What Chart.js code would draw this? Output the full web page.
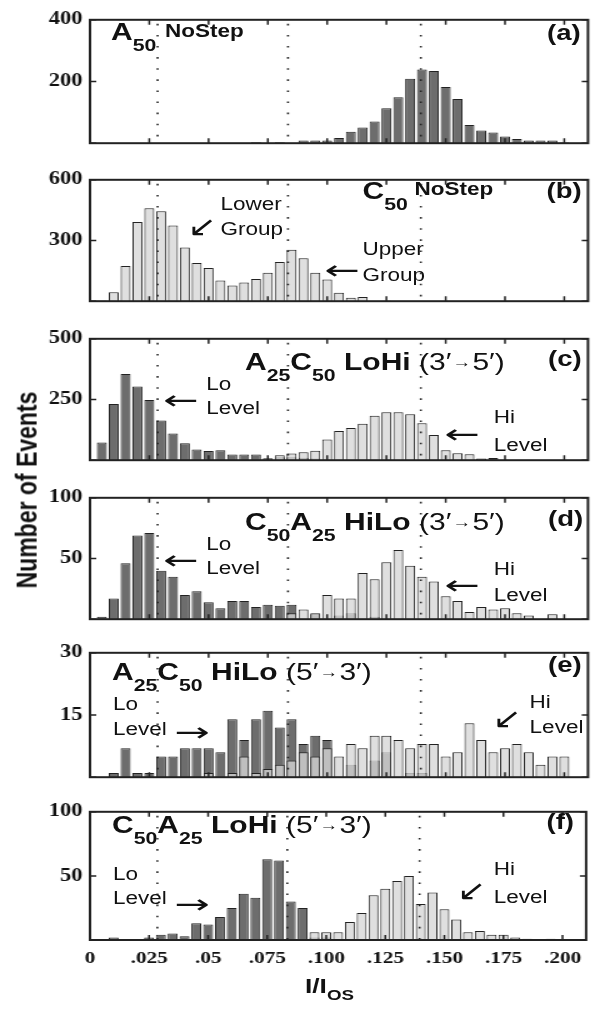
<!DOCTYPE html>
<html lang="en">
<head>
  <meta charset="UTF-8" />
  <title>Current histograms</title>
  <script src="https://cdn.jsdelivr.net/npm/chart.js"></script>
  <style>
    body { margin: 0; background: #fff; }
    #fig {
      position: relative;
      width: 473px;
      height: 1009px;
      transform: scaleX(1.25);   /* the original figure is stretched sideways */
      transform-origin: 0 0;
      font-family: "Liberation Sans", Arial, sans-serif;
      color: #111;
    }
    #fig canvas { position: absolute; left: 0; }
    .t { position: absolute; white-space: nowrap; line-height: 1; z-index: 2; }
    .big { font-size: 24px; font-weight: bold; }
    .big sub { font-size: 17px; vertical-align: -11px; }
    .rg { font-weight: normal; }
    .ar { font-size: 0.62em; vertical-align: 0.15em; margin: 0 1px; }
    .ns { font-size: 18px; font-weight: bold; }
    .tag { font-size: 22px; font-weight: bold; }
    .lab { font-size: 18px; }
    .arr { font-family: "DejaVu Sans", sans-serif; font-size: 26px; }
    .long { transform: scaleX(1.3); }
    .ytitle {
      left: 21.6px; top: 490px;
      font-size: 23px; font-weight: bold;
      transform: translate(-50%, -50%) rotate(-90deg);
    }
    .xt { font-size: 21px; font-weight: bold; }
    .xt sub { font-size: 15px; vertical-align: -7px; }
  </style>
</head>
<body>
<div id="fig">
  <!-- (a) -->
  <div class="t big" style="left:88.8px;top:19.7px">A<sub>50</sub></div>
  <div class="t ns" style="left:132px;top:21.8px">NoStep</div>
  <div class="t tag" style="left:437.6px;top:21.9px">(a)</div>

  <!-- (b) -->
  <div class="t big" style="left:290px;top:178.7px">C<sub>50</sub></div>
  <div class="t ns" style="left:331.7px;top:179.8px">NoStep</div>
  <div class="t tag" style="left:437.2px;top:180.4px">(b)</div>
  <div class="t lab" style="left:176.4px;top:194.8px">Lower</div>
  <div class="t arr" style="left:150px;top:212.7px;font-size:28px">↙</div>
  <div class="t lab" style="left:176.4px;top:219.8px">Group</div>
  <div class="t lab" style="left:290px;top:239.8px">Upper</div>
  <div class="t arr long" style="left:262.7px;top:257.3px">←</div>
  <div class="t lab" style="left:290px;top:265.8px">Group</div>

  <!-- (c) -->
  <div class="t big" style="left:196px;top:349.7px">A<sub>25</sub>C<sub>50</sub> LoHi <span class="rg">(3′<span class="ar">→</span>5′)</span></div>
  <div class="t tag" style="left:438.4px;top:348.4px">(c)</div>
  <div class="t lab" style="left:165px;top:374.8px">Lo</div>
  <div class="t arr long" style="left:133.9px;top:387.3px">←</div>
  <div class="t lab" style="left:165px;top:398.8px">Level</div>
  <div class="t lab" style="left:395px;top:407.8px">Hi</div>
  <div class="t arr long" style="left:358.7px;top:420.8px">←</div>
  <div class="t lab" style="left:395px;top:435.8px">Level</div>

  <!-- (d) -->
  <div class="t big" style="left:196px;top:509.7px">C<sub>50</sub>A<sub>25</sub> HiLo <span class="rg">(3′<span class="ar">→</span>5′)</span></div>
  <div class="t tag" style="left:438.4px;top:508.4px">(d)</div>
  <div class="t lab" style="left:165px;top:534.8px">Lo</div>
  <div class="t arr long" style="left:133.9px;top:547.3px">←</div>
  <div class="t lab" style="left:165px;top:558.8px">Level</div>
  <div class="t lab" style="left:395px;top:559.8px">Hi</div>
  <div class="t arr long" style="left:358.7px;top:572.3px">←</div>
  <div class="t lab" style="left:395px;top:585.8px">Level</div>

  <!-- (e) -->
  <div class="t big" style="left:89.6px;top:659.7px">A<sub>25</sub>C<sub>50</sub> HiLo <span class="rg">(5′<span class="ar">→</span>3′)</span></div>
  <div class="t tag" style="left:438.4px;top:654.4px">(e)</div>
  <div class="t lab" style="left:90.4px;top:694.8px">Lo</div>
  <div class="t lab" style="left:90.4px;top:719.8px">Level</div>
  <div class="t arr long" style="left:142.7px;top:719.3px">→</div>
  <div class="t lab" style="left:423.7px;top:692.8px">Hi</div>
  <div class="t arr" style="left:394px;top:704.7px;font-size:28px">↙</div>
  <div class="t lab" style="left:423.7px;top:717.8px">Level</div>

  <!-- (f) -->
  <div class="t big" style="left:89.6px;top:812.7px">C<sub>50</sub>A<sub>25</sub> LoHi <span class="rg">(5′<span class="ar">→</span>3′)</span></div>
  <div class="t tag" style="left:437.2px;top:811.4px">(f)</div>
  <div class="t lab" style="left:90.4px;top:864.8px">Lo</div>
  <div class="t lab" style="left:90.4px;top:888.8px">Level</div>
  <div class="t arr long" style="left:142.7px;top:890.8px">→</div>
  <div class="t lab" style="left:395px;top:859.8px">Hi</div>
  <div class="t arr" style="left:365.7px;top:877.2px;font-size:28px">↙</div>
  <div class="t lab" style="left:395px;top:887.8px">Level</div>

  <div class="t ytitle">Number of Events</div>
  <div class="t xt" style="left:244px;top:975px">I/I<sub>OS</sub></div>
</div>

<script>
  // bin centres (I/Ios), 0.005 wide
  const bins = [0, 0.005, 0.01, 0.015, 0.02, 0.025, 0.03, 0.035, 0.04, 0.045,
                0.05, 0.055, 0.06, 0.065, 0.07, 0.075, 0.08, 0.085, 0.09, 0.095,
                0.1, 0.105, 0.11, 0.115, 0.12, 0.125, 0.13, 0.135, 0.14, 0.145,
                0.15, 0.155, 0.16, 0.165, 0.17, 0.175, 0.18, 0.185, 0.19, 0.195,
                0.2, 0.205];

  const xTickValues = [0, 0.025, 0.05, 0.075, 0.1, 0.125, 0.15, 0.175, 0.2];
  const xTickLabels = ['0', '.025', '.05', '.075', '.100', '.125', '.150', '.175', '.200'];
  const guideLines = [0.0285, 0.0835, 0.1395];

  // (a) A50 NoStep
  const aDark = [null, null, null, null, null, null, null, null, null, null,
                 null, null, null, null, 3, null, 3, null, 9, 9,
                 9, 17, 37, 51, 70, 113, 149, 209, 239, 234,
                 182, 143, 59, 41, 35, 22, 14, 9, 9, 9,
                 2, null];
  const aTicks = [0, 200, 400];

  // (b) C50 NoStep
  const bLight = [null, 4, 44, 174, 392, 460, 445, 374, 265, 189,
                  164, 102, 77, 93, 110, 141, 194, 254, 212, 141,
                  107, 42, 17, 21, null, 2, null, null, null, null,
                  null, null, null, null, null, null, null, null, null, null,
                  null, null];
  const bTicks = [0, 300, 600];

  // (c) A25C50 LoHi (3'->5')
  const cDark = [null, 73, 231, 355, 304, 248, 163, 110, 70, 44,
                 38, 41, 23, 23, 23, 8, 12, 12, 10, 7,
                 null, null, null, null, null, null, null, null, null, null,
                 null, null, null, 7, 9, null, null, null, null, null,
                 null, null];
  const cLight = [null, null, null, null, null, null, null, null, null, null,
                  null, null, null, null, null, null, 20, 28, 33, 39,
                  85, 120, 133, 150, 183, 198, 198, 189, 152, 104,
                  41, 29, 25, null, null, null, null, null, null, null,
                  null, null];
  const cTicks = [0, 250, 500];

  // (d) C50A25 HiLo (3'->5')
  const dDark = [null, 2, 17, 46, 69, 71, 40, 35, 20, 23,
                 14, 9, 15, 15, 10, 12, 11, 12, null, 4,
                 null, 3, 5, null, 2, null, null, null, null, null,
                 null, null, null, null, null, null, null, null, null, null,
                 null, null];
  const dLight = [null, null, null, null, null, null, null, null, null, null,
                  null, null, null, null, null, null, null, 5, 8, 5,
                  20, 17, 17, 38, 33, 47, 57, 44, 35, 31,
                  19, 15, 6, 10, 8, 9, 5, 3, null, 4,
                  null, null];
  const dTicks = [0, 50, 100];

  // (e) A25C50 HiLo (5'->3')
  const eDark = [null, null, 1, 7, 1, 1, 5, 5, 7, 7,
                 7, 6, 14, 9, 14, 16, 12, 14, 8, 10,
                 9, null, 3, null, 4, 6, null, 1, 1, null,
                 null, null, null, null, null, null, null, null, null, null,
                 null, null];
  const eLight = [null, null, null, null, null, null, null, null, null, null,
                  1, null, 1, 5, 1, 2, 3, 4, 6, 5,
                  7, 5, 8, 7, 10, 10, 9, 7, 8, 8,
                  5, 6, 13, 9, 6, 7, 8, 6, 3, 5,
                  5, null];
  const eTicks = [0, 15, 30];

  // (f) C50A25 LoHi (5'->3')
  const fDark = [null, null, 2, null, null, 2, 4, 5, 3, 13,
                 12, 18, 25, 36, 33, 63, 62, 30, 25, 2,
                 2, null, null, null, null, null, null, null, null, null,
                 null, null, null, null, null, null, null, null, null, null,
                 null, null];
  const fLight = [null, null, null, null, null, null, null, null, null, null,
                  null, null, null, null, null, null, null, null, null, 6,
                  6, 6, 14, 21, 35, 40, 46, 50, 28, 37,
                  24, 16, 6, 7, 4, 4, 2, 1, null, 1,
                  null, null];
  const fTicks = [0, 50, 100];

  const DARK = '#6d6d6d';
  const LIGHT = 'rgba(214, 214, 214, 0.78)';
  const W = 473;
  const serif = '"Liberation Serif", "Times New Roman", serif';
  const yFont = { family: serif, size: 18, weight: 'bold' };
  const xFont = { family: serif, size: 17, weight: 'bold' };

  // panel layout (unstretched px): top / bottom of the plot box
  const panels = [
    { top: 14,  bottom: 149, ticks: aTicks, dark: aDark, light: null },
    { top: 174, bottom: 307, ticks: bTicks, dark: null,  light: bLight },
    { top: 333, bottom: 466, ticks: cTicks, dark: cDark, light: cLight },
    { top: 492, bottom: 625, ticks: dTicks, dark: dDark, light: dLight },
    { top: 647, bottom: 783, ticks: eTicks, dark: eDark, light: eLight },
    { top: 806, bottom: 940, ticks: fTicks, dark: fDark, light: fLight }
  ];

  function series(values) {
    return values.map((v, i) => ({ x: bins[i], y: v }));
  }

  function boxPlugin(yTicks) {
    return {
      id: 'box',
      afterDatasetsDraw(chart) {
        const { ctx, chartArea: a, scales: { x, y } } = chart;
        ctx.save();
        ctx.strokeStyle = '#222';
        // dotted guides
        ctx.lineWidth = 1.6;
        ctx.setLineDash([1.6, 9.5]);
        guideLines.forEach(v => {
          const px = x.getPixelForValue(v);
          ctx.beginPath();
          ctx.moveTo(px, a.top + 4);
          ctx.lineTo(px, a.bottom);
          ctx.stroke();
        });
        ctx.setLineDash([]);
        // inward tick marks on all four sides
        ctx.lineWidth = 1.5;
        ctx.beginPath();
        xTickValues.forEach(v => {
          const px = x.getPixelForValue(v);
          ctx.moveTo(px, a.bottom); ctx.lineTo(px, a.bottom - 5);
          ctx.moveTo(px, a.top); ctx.lineTo(px, a.top + 5);
        });
        yTicks.forEach(v => {
          const py = y.getPixelForValue(v);
          ctx.moveTo(a.left, py); ctx.lineTo(a.left + 5, py);
          ctx.moveTo(a.right, py); ctx.lineTo(a.right - 5, py);
        });
        ctx.stroke();
        ctx.lineWidth = 2;
        ctx.strokeRect(a.left, a.top, a.right - a.left, a.bottom - a.top);
        ctx.restore();
      }
    };
  }

  function makePanel(p, last) {
    const padTop = 11, padBottom = last ? 0 : 11, axisH = last ? 30 : 0;
    const canvas = document.createElement('canvas');
    canvas.width = W;
    canvas.height = p.bottom - p.top + padTop + padBottom + axisH;
    canvas.style.top = (p.top - padTop) + 'px';
    document.getElementById('fig').appendChild(canvas);

    const datasets = [];
    if (p.light) datasets.push({ data: series(p.light), backgroundColor: LIGHT, order: 1 });
    if (p.dark) datasets.push({ data: series(p.dark), backgroundColor: DARK, order: 2 });
    datasets.forEach(d => Object.assign(d, {
      borderColor: '#222', borderWidth: 1, grouped: false,
      barPercentage: 0.84, categoryPercentage: 1
    }));

    new Chart(canvas, {
      type: 'bar',
      data: { datasets },
      options: {
        responsive: false,
        animation: false,
        layout: { padding: { top: padTop, bottom: padBottom, left: 0, right: 2.6 } },
        plugins: { legend: { display: false }, tooltip: { enabled: false } },
        scales: {
          x: {
            type: 'linear', min: 0, max: 0.21, offset: false,
            display: last,
            grid: { display: false, drawTicks: false },
            border: { display: false },
            afterBuildTicks: s => { s.ticks = xTickValues.map(v => ({ value: v })); },
            afterFit: s => { s.height = axisH; },
            ticks: {
              callback: (v, i) => xTickLabels[i],
              font: xFont, color: '#111', padding: 8,
              maxRotation: 0, minRotation: 0, autoSkip: false
            }
          },
          y: {
            min: 0, max: p.ticks[p.ticks.length - 1],
            grid: { display: false, drawTicks: false },
            border: { display: false },
            afterBuildTicks: s => { s.ticks = p.ticks.map(v => ({ value: v })); },
            afterFit: s => { s.width = 72; },
            ticks: {
              callback: v => (v === 0 ? '' : String(v)),
              font: yFont, color: '#111', padding: 6
            }
          }
        }
      },
      plugins: [boxPlugin(p.ticks)]
    });
  }

  panels.forEach((p, i) => makePanel(p, i === panels.length - 1));
</script>
</body>
</html>
